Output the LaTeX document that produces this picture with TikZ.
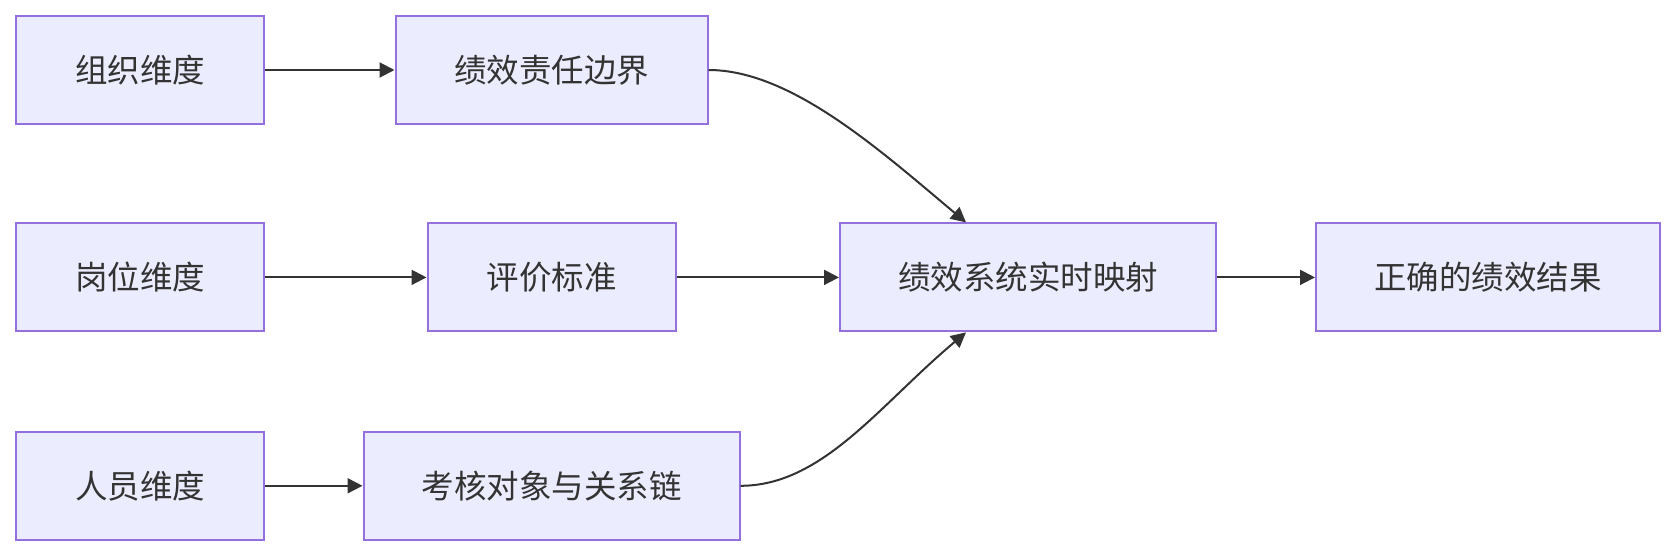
\documentclass[tikz,border=0pt]{standalone}
\usepackage{fontspec}
\setmainfont{Noto Sans CJK SC}
\usetikzlibrary{arrows.meta}
\definecolor{boxfill}{HTML}{ECECFF}
\definecolor{boxline}{HTML}{9370DB}
\definecolor{ink}{HTML}{333333}
\begin{document}
\begin{tikzpicture}[x=1pt,y=-1pt,
  box/.style={draw=boxline,fill=boxfill,line width=2pt,minimum height=108pt,inner sep=0pt,
    text=ink,font=\fontsize{32.5}{38}\selectfont},
  conn/.style={draw=ink,line width=2pt,-{Triangle[length=15pt,width=15pt]}}]
\useasboundingbox (0,0) rectangle (1676,556);
\node[box,minimum width=248pt] (A) at (140,70) {组织维度};
\node[box,minimum width=312pt] (B) at (551.5,70) {绩效责任边界};
\node[box,minimum width=248pt] (C) at (140,277.4) {岗位维度};
\node[box,minimum width=248pt] (D) at (551.5,277.4) {评价标准};
\node[box,minimum width=376pt] (E) at (1028,277.4) {绩效系统实时映射};
\node[box,minimum width=344pt] (F) at (1488,277.4) {正确的绩效结果};
\node[box,minimum width=248pt] (G) at (140,485.8) {人员维度};
\node[box,minimum width=376pt] (H) at (551.5,485.8) {考核对象与关系链};
\coordinate (Et) at ([xshift=127pt]E.north west);
\coordinate (Eb) at ([xshift=127pt]E.south west);
\draw[conn] (A) -- (B);
\draw[conn] (C) -- (D);
\draw[conn] (G) -- (H);
\draw[conn] (D) -- (E);
\draw[conn] (E) -- (F);
\draw[conn] (B.east) .. controls +(82,0) and +(-87,-73) .. (Et);
\draw[conn] (H.east) .. controls +(82,0) and +(-87,73) .. (Eb);
\end{tikzpicture}
\end{document}
